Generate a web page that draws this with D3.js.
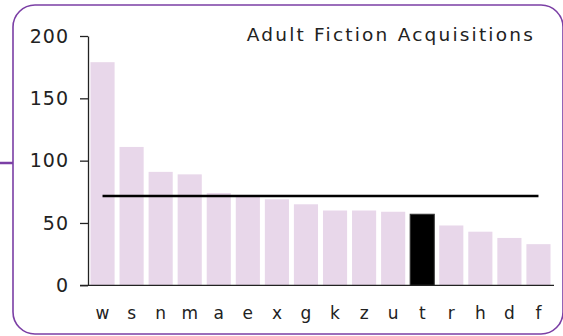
<!DOCTYPE html>
<html>
<head>
<meta charset="utf-8">
<script src="https://cdn.jsdelivr.net/npm/d3@7/dist/d3.min.js"></script>
<style>
  html, body { margin: 0; padding: 0; background: #fff; }
  svg { display: block; }
  text { font-family: "DejaVu Sans", sans-serif; fill: #222; }
</style>
</head>
<body>
<svg id="chart" width="563" height="336"></svg>
<script>
// Adult fiction acquisitions by branch, sorted descending
const branches = ["w","s","n","m","a","e","x","g","k","z","u","t","r","h","d","f"];
const acquisitions = [179,111,91,89,74,71,69,65,60,60,59,57,48,43,38,33];
const highlighted = ["t"];
const yTicks = [0,50,100,150,200];
const title = "Adult Fiction Acquisitions";

const svg = d3.select("#chart");
const frame = { left: 88, right: 553, top: 36, bottom: 285.3 };

// Panel outline with connector stub on the left
svg.append("rect")
  .attr("x", 13).attr("y", 5)
  .attr("width", 550).attr("height", 329)
  .attr("rx", 22).attr("ry", 22)
  .attr("fill", "none")
  .attr("stroke", "#7b3fa5")
  .attr("stroke-width", 1.6);
svg.append("line")
  .attr("x1", 0).attr("x2", 13)
  .attr("y1", 163).attr("y2", 163)
  .attr("stroke", "#7b3fa5")
  .attr("stroke-width", 2.5);

const x = d3.scaleBand()
  .domain(branches)
  .range([frame.left, frame.right])
  .paddingInner(0.17)
  .paddingOuter(0.085);

const y = d3.scaleLinear()
  .domain([0, 200])
  .range([frame.bottom, frame.top]);

// Bars
svg.append("g").selectAll("rect")
  .data(branches.map((b, i) => ({ b, v: acquisitions[i] })))
  .join("rect")
  .attr("x", d => x(d.b))
  .attr("width", x.bandwidth())
  .attr("y", d => y(d.v))
  .attr("height", d => y(0) - y(d.v))
  .attr("fill", d => highlighted.includes(d.b) ? "#000" : "#e8d7ea")
  .attr("stroke", d => highlighted.includes(d.b) ? "#333" : "none")
  .attr("stroke-width", 1);

// Mean line across the bar centres
const mean = d3.mean(acquisitions);
svg.append("path")
  .datum(branches)
  .attr("fill", "none")
  .attr("stroke", "#000")
  .attr("stroke-width", 2.5)
  .attr("d", d3.line()
    .x(b => x(b) + x.bandwidth() / 2)
    .y(() => y(mean)));

// Y axis
const yAxis = svg.append("g")
  .attr("transform", `translate(${frame.left},0)`)
  .call(d3.axisLeft(y).tickValues(yTicks).tickSize(8).tickPadding(11).tickSizeOuter(0));
yAxis.select(".domain").attr("stroke", "#222").attr("stroke-width", 1.3);
yAxis.selectAll(".tick line").attr("stroke", "#222").attr("stroke-width", 1.3);
yAxis.selectAll(".tick text")
  .attr("font-size", 19)
  .attr("letter-spacing", 1)
  .attr("font-family", "DejaVu Sans, sans-serif")
  .attr("fill", "#222");

// X baseline and category labels
svg.append("line")
  .attr("x1", frame.left - 8).attr("x2", frame.right + 1)
  .attr("y1", y(0)).attr("y2", y(0))
  .attr("stroke", "#222").attr("stroke-width", 1.3);

svg.append("g").selectAll("text")
  .data(branches)
  .join("text")
  .attr("x", b => x(b) + x.bandwidth() / 2)
  .attr("y", 319)
  .attr("text-anchor", "middle")
  .attr("font-size", 17)
  .text(b => b);

// Title
svg.append("text")
  .attr("x", 535)
  .attr("y", 41)
  .attr("text-anchor", "end")
  .attr("font-size", 18.5)
  .attr("letter-spacing", 2.2)
  .text(title);
</script>
</body>
</html>
